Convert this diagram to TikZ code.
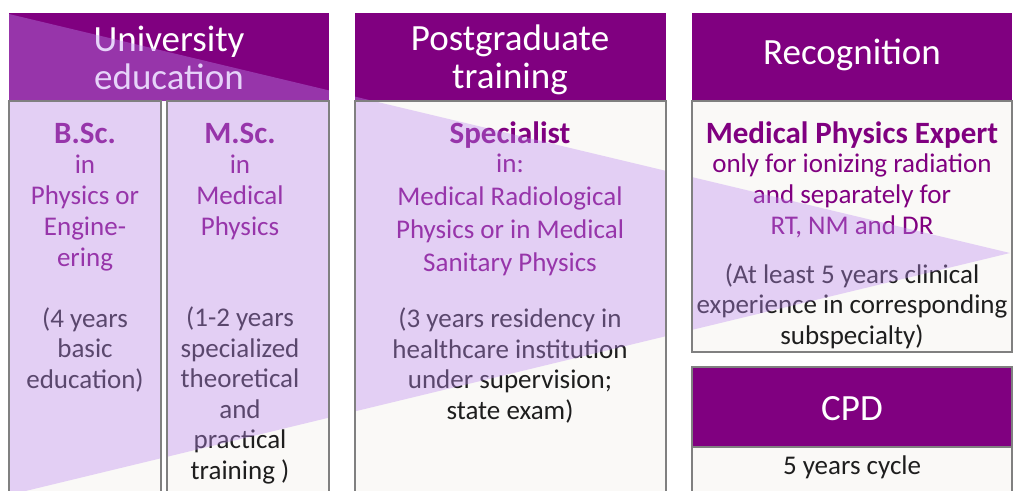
\documentclass[tikz,border=0pt]{standalone}
\usepackage{fontspec}
\setmainfont{Carlito}
\usetikzlibrary{positioning}
\definecolor{hdpurple}{RGB}{128,0,128}
\definecolor{boxwhite}{RGB}{250,249,247}
\definecolor{boxgray}{RGB}{128,128,128}
\definecolor{wedgelilac}{RGB}{190,140,240}
\definecolor{darktext}{RGB}{30,30,30}

\tikzset{
  headtext/.style={text=white,font=\fontsize{37}{38}\selectfont,align=center,anchor=base,inner sep=0pt},
  titletext/.style={text=hdpurple,font=\fontsize{31}{31}\selectfont\bfseries,anchor=base,inner sep=0pt},
  lilactext/.style={text=hdpurple,font=\fontsize{27}{31}\selectfont,align=center,anchor=base,inner sep=0pt},
  greytext/.style={text=darktext,font=\fontsize{27}{30.5}\selectfont,align=center,anchor=base,inner sep=0pt},
  boxline/.style={draw=boxgray,line width=1.5pt}
}

\begin{document}
\begin{tikzpicture}[x=1pt,y=-1pt]
  \useasboundingbox (0,0) rectangle (1014,490);
  \fill[white] (0,0) rectangle (1014,490);
  % headers
  \fill[hdpurple] (9,13) rectangle (329,101);
  \fill[hdpurple] (355,13) rectangle (666,101);
  \fill[hdpurple] (692,13) rectangle (1012,101);
  \fill[hdpurple] (692,367) rectangle (1012,447);
  % bodies
  \fill[boxwhite] (9,101) rectangle (161,495);
  \fill[boxwhite] (167,101) rectangle (329,495);
  \fill[boxwhite] (355,101) rectangle (666,495);
  \fill[boxwhite] (692,101) rectangle (1012,352);
  \fill[boxwhite] (692,447) rectangle (1012,495);

  % base anchor = last line
  \node[headtext] (univ) at (169,89) {University\\education};
  \node[headtext] (postgrad) at (510,88) {Postgraduate\\training};
  \node[headtext] (recog) at (852,64) {Recognition};
  \node[headtext] (cpd) at (852,420) {CPD};

  \node[titletext] (bsc) at (85,143) {B.Sc.};
  \node[lilactext] (bscfield) at (85,266) {in\\Physics or\\Engine-\\ering};
  \node[greytext] (bscyears) at (85,388) {(4 years\\basic\\education)};

  \node[titletext] (msc) at (240,143) {M.Sc.};
  \node[lilactext] (mscfield) at (240,235) {in\\Medical\\Physics};
  \node[greytext] (mscyears) at (240,479) {(1-2 years\\specialized\\theoretical\\and\\practical\\training )};

  \node[titletext] (spec) at (510,143) {Specialist};
  \node[lilactext,font=\fontsize{27}{33}\selectfont] (specfield) at (510,271) {in:\\Medical Radiological\\Physics or in Medical\\Sanitary Physics};
  \node[greytext] (specyears) at (510,419) {(3 years residency in\\healthcare institution\\under supervision;\\state exam)};

  \node[titletext] (mpe) at (852,143) {Medical Physics Expert};
  \node[lilactext] (mpefield) at (852,234) {only for ionizing radiation\\and separately for\\RT, NM and DR};
  \node[greytext] (mpeyears) at (852,344) {(At least 5 years clinical\\experience in corresponding\\subspecialty)};

  \node[greytext] (cpdcycle) at (852,474) {5 years cycle};

  % lilac wedge over the boxes
  \begin{scope}
    \clip (9,13) rectangle (329,101) (9,101) rectangle (161,495)
          (167,101) rectangle (329,495) (355,13) rectangle (666,495)
          (692,13) rectangle (1012,352);
    \fill[wedgelilac,fill opacity=0.38] (9,14) -- (1010,253) -- (9,495) -- cycle;
  \end{scope}

  % borders
  \draw[boxline] (9,101) rectangle (161,495);
  \draw[boxline] (167,101) rectangle (329,495);
  \draw[boxline] (355,101) rectangle (666,495);
  \draw[boxline] (692,101) rectangle (1012,352);
  \draw[boxline] (692,447) rectangle (1012,495);
  \draw[boxline] (692,367) rectangle (1012,447);
\end{tikzpicture}
\end{document}
